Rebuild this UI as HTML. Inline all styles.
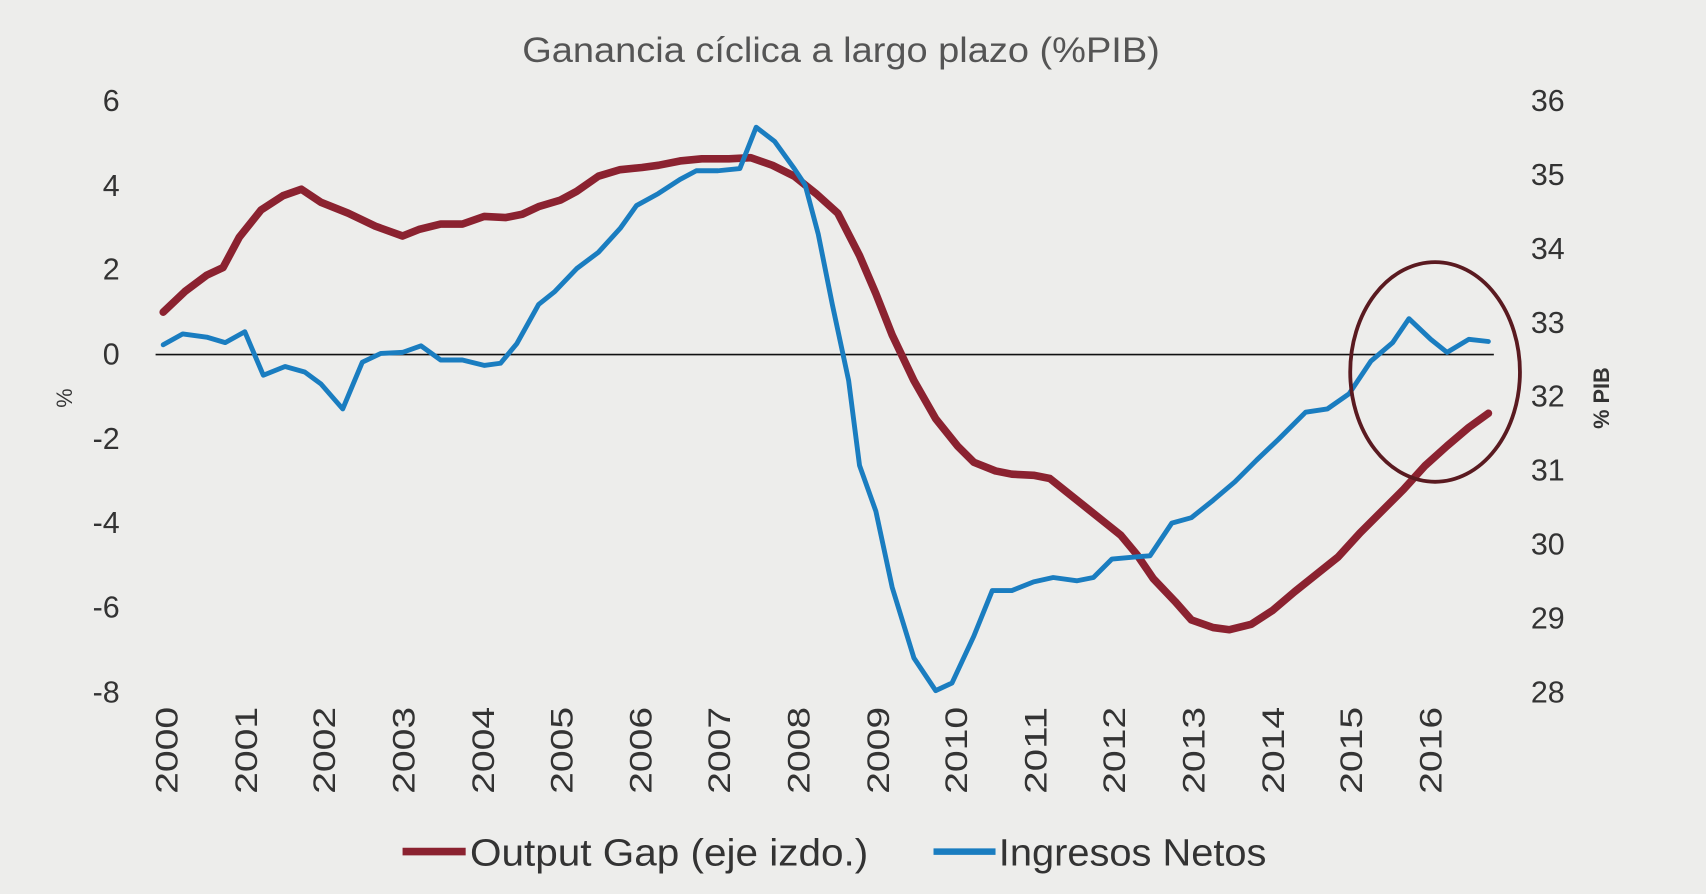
<!DOCTYPE html>
<html><head><style>html,body{margin:0;padding:0;background:#ededeb;}svg{display:block}</style></head>
<body>
<svg width="1706" height="894" viewBox="0 0 1568 822" preserveAspectRatio="none" xmlns="http://www.w3.org/2000/svg" font-family="Liberation Sans, sans-serif">
<rect width="1568" height="822" fill="#ededeb"/>
<text x="773" y="57" font-size="32" fill="#555" text-anchor="middle" textLength="586" lengthAdjust="spacingAndGlyphs">Ganancia cíclica a largo plazo (%PIB)</text>
<g font-size="28" fill="#333" text-anchor="end">
<text x="110" y="102">6</text><text x="110" y="180">4</text><text x="110" y="257">2</text><text x="110" y="335">0</text>
<text x="110" y="413">-2</text><text x="110" y="490">-4</text><text x="110" y="568">-6</text><text x="110" y="646">-8</text>
</g>
<g font-size="28" fill="#333" text-anchor="start">
<text x="1407" y="102">36</text><text x="1407" y="170">35</text><text x="1407" y="238">34</text><text x="1407" y="306">33</text>
<text x="1407" y="374">32</text><text x="1407" y="442">31</text><text x="1407" y="510">30</text><text x="1407" y="578">29</text><text x="1407" y="646">28</text>
</g>
<text transform="translate(66,366) rotate(-90)" font-size="20" fill="#333" text-anchor="middle">%</text>
<text transform="translate(1479,366) rotate(-90)" font-size="20" fill="#333" text-anchor="middle" font-weight="bold">% PIB</text>
<g font-size="29" fill="#333" text-anchor="end">
<text transform="translate(163,650) rotate(-90)" textLength="80" lengthAdjust="spacingAndGlyphs">2000</text>
<text transform="translate(236,650) rotate(-90)" textLength="80" lengthAdjust="spacingAndGlyphs">2001</text>
<text transform="translate(308,650) rotate(-90)" textLength="80" lengthAdjust="spacingAndGlyphs">2002</text>
<text transform="translate(381,650) rotate(-90)" textLength="80" lengthAdjust="spacingAndGlyphs">2003</text>
<text transform="translate(454,650) rotate(-90)" textLength="80" lengthAdjust="spacingAndGlyphs">2004</text>
<text transform="translate(526,650) rotate(-90)" textLength="80" lengthAdjust="spacingAndGlyphs">2005</text>
<text transform="translate(599,650) rotate(-90)" textLength="80" lengthAdjust="spacingAndGlyphs">2006</text>
<text transform="translate(671,650) rotate(-90)" textLength="80" lengthAdjust="spacingAndGlyphs">2007</text>
<text transform="translate(744,650) rotate(-90)" textLength="80" lengthAdjust="spacingAndGlyphs">2008</text>
<text transform="translate(817,650) rotate(-90)" textLength="80" lengthAdjust="spacingAndGlyphs">2009</text>
<text transform="translate(889,650) rotate(-90)" textLength="80" lengthAdjust="spacingAndGlyphs">2010</text>
<text transform="translate(962,650) rotate(-90)" textLength="80" lengthAdjust="spacingAndGlyphs">2011</text>
<text transform="translate(1034,650) rotate(-90)" textLength="80" lengthAdjust="spacingAndGlyphs">2012</text>
<text transform="translate(1107,650) rotate(-90)" textLength="80" lengthAdjust="spacingAndGlyphs">2013</text>
<text transform="translate(1180,650) rotate(-90)" textLength="80" lengthAdjust="spacingAndGlyphs">2014</text>
<text transform="translate(1252,650) rotate(-90)" textLength="80" lengthAdjust="spacingAndGlyphs">2015</text>
<text transform="translate(1325,650) rotate(-90)" textLength="80" lengthAdjust="spacingAndGlyphs">2016</text>
</g>
<line x1="143" y1="326" x2="1373" y2="326" stroke="#111" stroke-width="1.5"/>
<polyline fill="none" stroke="#8b2230" stroke-width="7" stroke-linejoin="round" stroke-linecap="round" points="150,287 170,268 190,253 205,246 220,218 240,193 260,180 277,174 295,186 320,196 345,208 370,217 385,211 405,206 425,206 445,199 465,200 480,197 495,190 515,184 530,176 550,162 570,156 590,154 605,152 625,148 645,146 670,146 690,145 710,152 730,162 750,178 770,196 790,235 805,270 820,308 840,350 860,385 880,410 895,425 915,433 930,436 950,437 965,440 980,452 1000,468 1015,480 1030,492 1045,510 1060,532 1080,553 1095,570 1115,577 1130,579 1150,574 1170,561 1190,544 1210,528 1230,512 1250,490 1270,470 1290,450 1310,428 1330,410 1350,393 1368,380"/>
<polyline fill="none" stroke="#1a7dc0" stroke-width="4.5" stroke-linejoin="round" stroke-linecap="round" points="150,317 168,307 190,310 207,315 225,305 242,345 262,337 280,342 295,353 315,376 333,333 350,325 370,324 387,318 405,331 425,331 445,336 460,334 475,316 495,280 510,268 530,247 550,232 570,210 585,189 605,178 625,165 640,157 660,157 680,155 695,117 712,130 730,155 740,170 752,215 765,280 780,350 790,428 805,470 820,540 840,605 860,635 875,628 895,585 912,543 930,543 950,535 968,531 990,534 1005,531 1022,514 1045,512 1057,511 1077,481 1095,476 1115,460 1135,443 1155,423 1175,404 1200,379 1220,376 1240,362 1260,332 1280,315 1295,293 1315,312 1330,324 1350,312 1368,314"/>
<ellipse cx="1319" cy="342" rx="78" ry="101" fill="none" stroke="#5a1a20" stroke-width="3.5"/>
<line x1="370" y1="783" x2="428" y2="783" stroke="#8b2230" stroke-width="7"/>
<text x="432" y="796" font-size="35" fill="#333" textLength="366" lengthAdjust="spacingAndGlyphs">Output Gap (eje izdo.)</text>
<line x1="858" y1="783" x2="915" y2="783" stroke="#1a7dc0" stroke-width="6"/>
<text x="918" y="796" font-size="35" fill="#333" textLength="246" lengthAdjust="spacingAndGlyphs">Ingresos Netos</text>
</svg>
</body></html>
